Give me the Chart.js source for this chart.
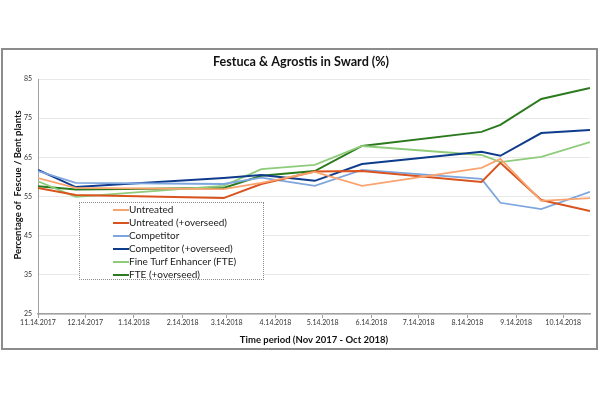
<!DOCTYPE html>
<html lang="en">
  <head>
    <meta charset="UTF-8" />
    <title>Festuca & Agrostis in Sward</title>
    <script src="https://cdn.jsdelivr.net/npm/chart.js@4.4.1/dist/chart.umd.min.js"></script>
    <style>
      body {
        margin: 0;
        background: #fff;
        font-family: Lato, "Open Sans", sans-serif;
      }
      .frame {
        position: absolute;
        left: 1px;
        top: 48px;
        width: 597px;
        height: 302px;
        box-sizing: border-box;
        border: 2px solid #8c8c8c;
      }
      .chart-box {
        position: relative;
        width: 593px;
        height: 298px;
      }
      #legend {
        position: absolute;
        left: 79px;
        top: 202px;
        width: 185px;
        height: 78px;
        box-sizing: border-box;
        border: 1px dotted #8a8a8a;
        background: #fff;
      }
      .legend-row {
        height: 13px;
        line-height: 13px;
        font-size: 10px;
        color: #1a1a1a;
        white-space: nowrap;
        position: relative;
        padding-left: 49px;
      }
      .legend-row span {
        position: absolute;
        left: 33px;
        top: 6px;
        width: 16px;
        height: 2px;
      }
    </style>
  </head>
  <body>
    <div class="frame">
      <div class="chart-box"><canvas id="swardChart"></canvas></div>
    </div>
    <div id="legend"></div>

    <script>
      // sample dates and month ticks
      const startDate = "2017-11-14";
      const sampleDates = ["2017-11-14", "2017-12-08", "2018-03-12", "2018-04-05", "2018-05-09",
        "2018-06-08", "2018-08-23", "2018-09-04", "2018-09-30", "2018-10-31"];
      const tickDates = ["2017-11-14", "2017-12-14", "2018-01-14", "2018-02-14", "2018-03-14", "2018-04-14",
        "2018-05-14", "2018-06-14", "2018-07-14", "2018-08-14", "2018-09-14", "2018-10-14"];
      const tickLabels = ["11.14.2017", "12.14.2017", "1.14.2018", "2.14.2018", "3.14.2018", "4.14.2018",
        "5.14.2018", "6.14.2018", "7.14.2018", "8.14.2018", "9.14.2018", "10.14.2018"];

      const seriesNames = ["Untreated", "Untreated (+overseed)", "Competitor", "Competitor (+overseed)",
        "Fine Turf Enhancer (FTE)", "FTE (+overseed)"];
      const untreated = [59.7, 57.2, 56.9, 58.5, 61.3, 57.7, 62.3, 64.6, 53.9, 54.6];
      const untreatedOverseed = [57.2, 55.4, 54.6, 58.2, 61.4, 61.5, 58.7, 63.6, 54.1, 51.3];
      const competitor = [61.5, 58.5, 58.2, 59.8, 57.7, 61.8, 59.5, 53.4, 51.8, 56.2];
      const competitorOverseed = [61.8, 57.4, 59.7, 60.5, 59.0, 63.3, 66.4, 65.4, 71.2, 72.0];
      const fte = [58.9, 54.9, 57.7, 62.0, 63.1, 67.9, 65.6, 63.8, 65.1, 68.9];
      const fteOverseed = [57.6, 56.8, 57.2, 60.3, 61.5, 67.9, 71.5, 73.3, 79.9, 82.7];

      const colors = ["#f9a470", "#d9531e", "#7ea6de", "#0f3b8c", "#8ecb7a", "#2b7a1e"];
      const widths = [1.8, 2, 1.8, 2, 1.8, 2];

      function dayNum(s) {
        return (Date.parse(s) - Date.parse(startDate)) / 86400000;
      }

      const xs = sampleDates.map(dayNum);
      const tickDays = tickDates.map(dayNum);
      const allSeries = [untreated, untreatedOverseed, competitor, competitorOverseed, fte, fteOverseed];

      const datasets = allSeries.map((vals, i) => ({
        label: seriesNames[i],
        data: vals.map((v, j) => ({ x: xs[j], y: v })),
        borderColor: colors[i],
        backgroundColor: colors[i],
        borderWidth: widths[i],
        pointRadius: 0,
        fill: false,
        tension: 0,
      }));

      const ctx = document.getElementById("swardChart").getContext("2d");
      const chart = new Chart(ctx, {
        type: "line",
        data: { datasets: datasets },
        options: {
          responsive: true,
          maintainAspectRatio: false,
          animation: false,
          layout: { padding: { left: 9, right: 6, top: 0, bottom: 0 } },
          plugins: {
            legend: { display: false },
            tooltip: { enabled: false },
            title: {
              display: true,
              text: "Festuca & Agrostis in Sward (%)",
              color: "#111",
              font: { family: "Lato", size: 12.6, weight: "bold" },
              padding: { top: 4.5, bottom: 9.4 },
            },
          },
          scales: {
            x: {
              type: "linear",
              min: 0,
              max: dayNum("2018-10-31"),
              afterBuildTicks: (scale) => {
                scale.ticks = tickDays.map((v) => ({ value: v }));
              },
              afterFit: (scale) => {
                scale.height = 34;
              },
              ticks: {
                autoSkip: false,
                maxRotation: 0,
                padding: 1,
                color: "#333",
                font: { family: "Lato", size: 7 },
                callback: (value, index) => tickLabels[index],
              },
              grid: { drawOnChartArea: false, drawTicks: true, tickLength: 4, color: "#a0a0a0" },
              border: { color: "#a0a0a0", width: 1.5 },
              title: {
                display: true,
                text: "Time period (Nov 2017 - Oct 2018)",
                color: "#111",
                font: { family: "Lato", size: 9.5, weight: "bold" },
                padding: { top: 0, bottom: 2 },
              },
            },
            y: {
              min: 25,
              max: 85,
              afterFit: (scale) => {
                scale.width = 26;
              },
              ticks: {
                stepSize: 10,
                padding: 6,
                color: "#333",
                font: { family: "Lato", size: 7 },
              },
              grid: { color: "#e8e8e8", drawTicks: false },
              border: { color: "#a0a0a0", width: 1 },
              title: {
                display: true,
                // leading spaces nudge the text up a little, like the original
                text: "          Percentage of  Fescue / Bent plants",
                color: "#111",
                font: { family: "Lato", size: 9.5, weight: "bold" },
                padding: { top: 0, bottom: 0 },
              },
            },
          },
        },
      });

      // legend box built from the datasets
      const legend = document.getElementById("legend");
      chart.data.datasets.forEach((ds) => {
        const row = document.createElement("div");
        row.className = "legend-row";
        const swatch = document.createElement("span");
        swatch.style.background = ds.borderColor;
        row.appendChild(swatch);
        row.appendChild(document.createTextNode(ds.label));
        legend.appendChild(row);
      });
    </script>
  </body>
</html>
